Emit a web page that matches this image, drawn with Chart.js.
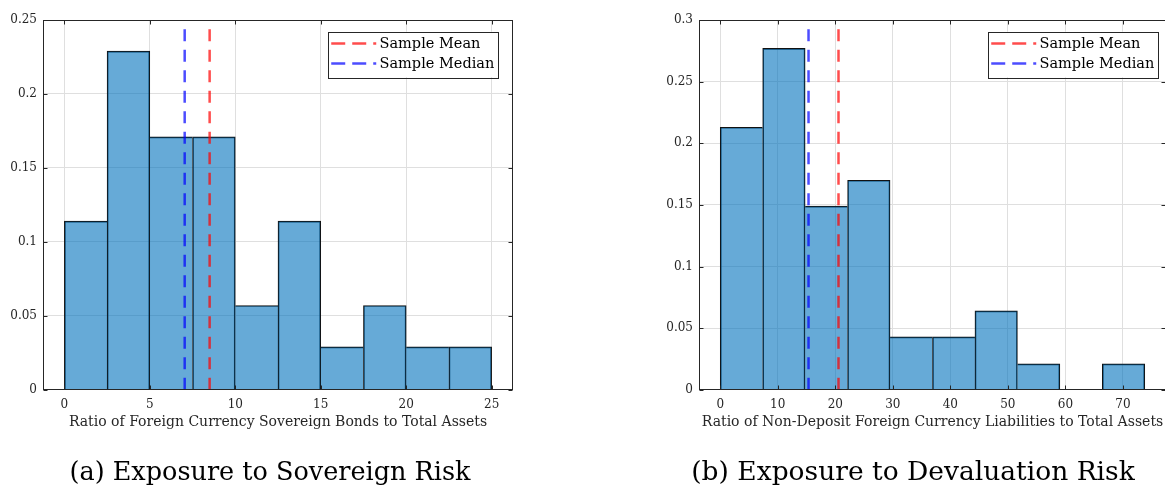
<!DOCTYPE html>
<html>
<head>
<meta charset="utf-8">
<script src="https://cdn.jsdelivr.net/npm/chart.js@4"></script>
<style>
  html, body { margin: 0; padding: 0; background: #fff; overflow: hidden; }
  .panel { position: absolute; top: 0; height: 491px; }
  #panelA { left: 0; width: 540px; }
  #panelB { left: 660px; width: 506px; }
</style>
</head>
<body>
<div class="panel" id="panelA"><canvas id="chartA"></canvas></div>
<div class="panel" id="panelB"><canvas id="chartB"></canvas></div>
<script>
// (a) sovereign bonds histogram, bin width 2.5
const sovBinCenters = [1.25, 3.75, 6.25, 8.75, 11.25, 13.75, 16.25, 18.75, 21.25, 23.75];
const sovShares = [0.114, 0.229, 0.171, 0.171, 0.057, 0.114, 0.029, 0.057, 0.029, 0.029];
const sovMean = 8.5;
const sovMedian = 7.04;
const sovXTicks = [0, 5, 10, 15, 20, 25];
const sovYTicks = [0, 0.05, 0.1, 0.15, 0.2, 0.25];

// (b) non-deposit FX liabilities histogram, bin width ~7.38
const devBinCenters = [3.69, 11.07, 18.45, 25.83, 33.21, 40.59, 47.97, 55.35, 62.73, 70.11];
const devShares = [0.213, 0.277, 0.149, 0.170, 0.043, 0.043, 0.064, 0.021, 0, 0.021];
const devMean = 20.56;
const devMedian = 15.35;
const devXTicks = [0, 10, 20, 30, 40, 50, 60, 70];
const devYTicks = [0, 0.05, 0.1, 0.15, 0.2, 0.25, 0.3];

const FONT = "'DejaVu Serif', serif";
const INK = '#262626';
const GRID = '#dfdfdf';

// axes box with inward tick marks on all four sides
const boxFrame = {
  id: 'boxFrame',
  afterDatasetsDraw(chart) {
    const {ctx, chartArea: a, scales} = chart;
    const l = Math.round(a.left) + 0.5, r = Math.round(a.right) - 0.5;
    const t = Math.round(a.top) + 0.5, b = Math.round(a.bottom) - 0.5;
    ctx.save();
    ctx.strokeStyle = INK;
    ctx.lineWidth = 1;
    ctx.strokeRect(l, t, r - l, b - t);
    ctx.beginPath();
    scales.x.ticks.forEach(tk => {
      const px = Math.round(scales.x.getPixelForValue(tk.value)) + 0.5;
      ctx.moveTo(px, b); ctx.lineTo(px, b - 4);
      ctx.moveTo(px, t); ctx.lineTo(px, t + 4);
    });
    scales.y.ticks.forEach(tk => {
      const py = Math.round(scales.y.getPixelForValue(tk.value)) + 0.5;
      ctx.moveTo(l, py); ctx.lineTo(l + 4, py);
      ctx.moveTo(r, py); ctx.lineTo(r - 4, py);
    });
    ctx.stroke();
    ctx.restore();
  }
};

// legend drawn inside the plot, top right
const legendBox = {
  id: 'legendBox',
  afterDraw(chart, args, opts) {
    const {ctx, chartArea: a} = chart;
    const items = chart.data.datasets.filter(d => d.type === 'line');
    ctx.save();
    ctx.font = '14.5px ' + FONT;
    const tw = Math.max(...items.map(d => ctx.measureText(d.label).width));
    const w = 52 + tw + 3, h = 45.6;
    const x0 = a.right - opts.right - w, y0 = a.top + opts.top;
    ctx.fillStyle = '#fff';
    ctx.fillRect(x0, y0, w, h);
    ctx.strokeStyle = INK;
    ctx.lineWidth = 1;
    ctx.strokeRect(Math.round(x0) + 0.5, Math.round(y0) + 0.5, Math.round(w), Math.round(h));
    items.forEach((d, i) => {
      const ry = y0 + 11.8 + i * 20;
      ctx.save();
      ctx.strokeStyle = d.borderColor;
      ctx.lineWidth = 2.5;
      ctx.setLineDash([14, 7]);
      ctx.beginPath();
      ctx.moveTo(x0 + 3.7, ry);
      ctx.lineTo(x0 + 48.7, ry);
      ctx.stroke();
      ctx.restore();
      ctx.fillStyle = '#000';
      ctx.textBaseline = 'middle';
      ctx.fillText(d.label, x0 + 52, ry + 1);
    });
    ctx.restore();
  }
};

// only the taller bar of a shared edge draws that edge, so lines stay 1px
function edgeWidths(vals) {
  return c => {
    const i = c.dataIndex, v = vals[i];
    return {
      top: 1,
      bottom: 0,
      left: (i === 0 || v >= vals[i - 1]) ? 1 : 0,
      right: (i === vals.length - 1 || v > vals[i + 1]) ? 1 : 0
    };
  };
}

function makeChart(id, o) {
  const yMax = o.yTicks[o.yTicks.length - 1];
  const capLine = o.capSize * 1.2;
  const capTop = 473 - capLine / 2 - 430.8;
  return new Chart(document.getElementById(id), {
    type: 'bar',
    data: {
      datasets: [
        {
          type: 'line',
          label: 'Sample Mean',
          data: [{x: o.mean, y: 0}, {x: o.mean, y: yMax}],
          borderColor: 'rgba(255, 0, 0, 0.7)',
          borderWidth: 2.5,
          borderDash: [12, 8.5],
          pointRadius: 0,
          order: 1
        },
        {
          type: 'line',
          label: 'Sample Median',
          data: [{x: o.median, y: 0}, {x: o.median, y: yMax}],
          borderColor: 'rgba(0, 0, 255, 0.7)',
          borderWidth: 2.5,
          borderDash: [12, 8.5],
          pointRadius: 0,
          order: 1
        },
        {
          type: 'bar',
          label: 'Share',
          data: o.centers.map((c, i) => ({x: c, y: o.shares[i]})),
          backgroundColor: 'rgba(0, 114, 189, 0.6)',
          borderColor: '#111',
          borderWidth: edgeWidths(o.shares),
          borderSkipped: false,
          barPercentage: 1,
          categoryPercentage: 1,
          order: 3
        }
      ]
    },
    options: {
      responsive: true,
      maintainAspectRatio: false,
      animation: false,
      events: [],
      layout: { padding: { top: 20, left: 0, right: 0, bottom: 0 } },
      plugins: {
        legend: { display: false },
        tooltip: { enabled: false },
        title: {
          display: true,
          position: 'bottom',
          text: o.caption,
          color: '#000',
          font: { family: FONT, size: o.capSize, weight: 'normal' },
          padding: { top: capTop, bottom: 491 - 430.8 - capTop - capLine }
        },
        legendBox: { right: o.legendRight, top: 11.7 }
      },
      scales: {
        x: {
          type: 'linear',
          min: o.xMin,
          max: o.xMax,
          offset: false,
          afterBuildTicks: s => { s.ticks = o.xTicks.map(v => ({value: v})); },
          afterFit: s => { s.height = 41; },
          grid: { color: GRID, drawTicks: false, offset: false },
          border: { display: false },
          ticks: { padding: 8, color: INK, maxRotation: 0, font: { family: FONT, size: 12 } },
          title: { display: true, text: o.xTitle, color: INK, padding: 0, font: { family: FONT, size: 14 } }
        },
        y: {
          min: 0,
          max: yMax,
          afterBuildTicks: s => { s.ticks = o.yTicks.map(v => ({value: v})); },
          afterFit: s => { s.width = o.yWidth; },
          grid: { color: GRID, drawTicks: false },
          border: { display: false },
          ticks: {
            padding: 6, color: INK, font: { family: FONT, size: 12 },
            callback: v => String(+v.toFixed(2))
          }
        },
        // blank right-hand gutter so the caption centres like the reference
        gutter: {
          type: 'linear',
          position: 'right',
          min: 0,
          max: 1,
          afterFit: s => { s.width = o.gutter; },
          grid: { display: false },
          border: { display: false },
          ticks: { display: false }
        }
      }
    },
    plugins: [boxFrame, legendBox]
  });
}

makeChart('chartA', {
  centers: sovBinCenters, shares: sovShares, mean: sovMean, median: sovMedian,
  xTicks: sovXTicks, yTicks: sovYTicks, xMin: -1.25, xMax: 26.25,
  xTitle: 'Ratio of Foreign Currency Sovereign Bonds to Total Assets',
  caption: '(a) Exposure to Sovereign Risk', capSize: 25.5,
  yWidth: 43, gutter: 27, legendRight: 15.7
});

makeChart('chartB', {
  centers: devBinCenters, shares: devShares, mean: devMean, median: devMedian,
  xTicks: devXTicks, yTicks: devYTicks, xMin: -3.69, xMax: 77.49,
  xTitle: 'Ratio of Non-Deposit Foreign Currency Liabilities to Total Assets',
  caption: '(b) Exposure to Devaluation Risk', capSize: 26.5,
  yWidth: 39, gutter: 0, legendRight: 8.7
});
</script>
</body>
</html>
